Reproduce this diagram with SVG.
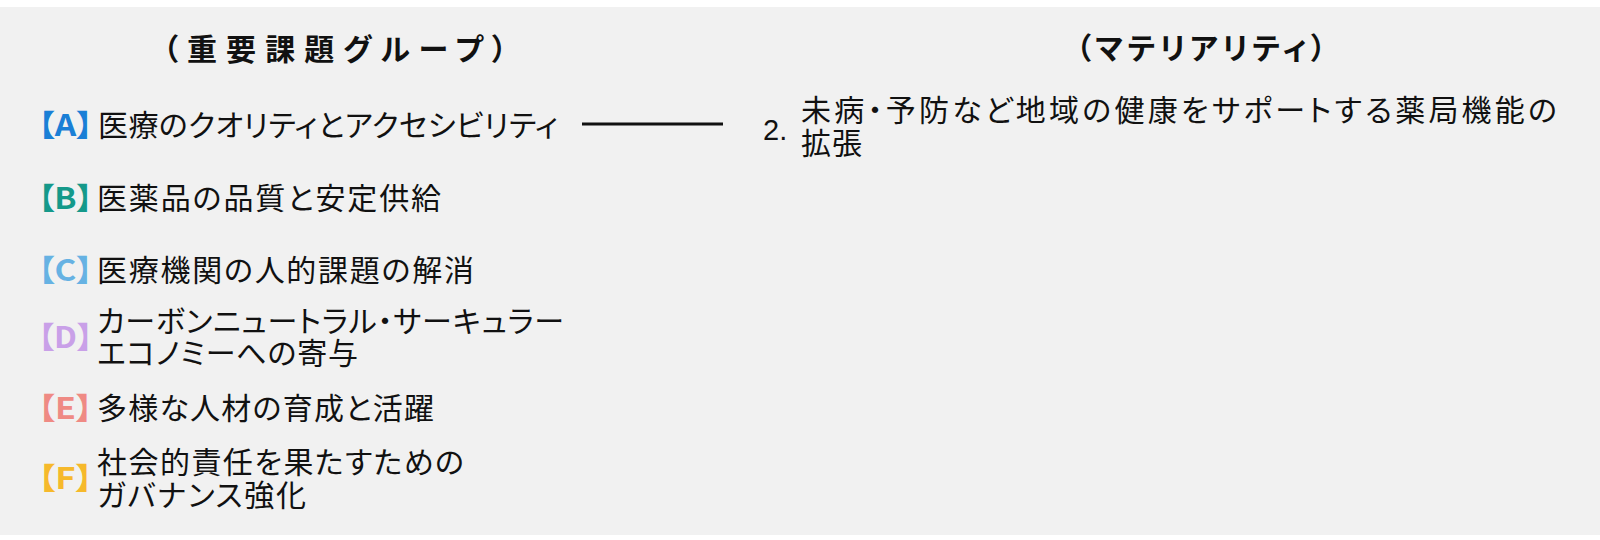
<svg xmlns="http://www.w3.org/2000/svg" width="1600" height="540" viewBox="0 0 1600 540">
<style>
.t{font-family:"Noto Sans CJK JP","Noto Sans",sans-serif;font-size:30px;fill:#111;font-feature-settings:"palt";}
.h{font-family:"Noto Sans CJK JP","Noto Sans",sans-serif;font-size:30px;font-weight:bold;fill:#111;font-feature-settings:"palt";}
.b{font-family:"Noto Sans CJK JP","Noto Sans",sans-serif;font-size:30px;font-weight:bold;font-feature-settings:"palt";}
.n{font-family:"Liberation Sans",Arial,sans-serif;font-size:29px;fill:#111;}
.conn{stroke:#111;stroke-width:3;fill:none;}
</style>
<rect x="0" y="0" width="1600" height="540" fill="#ffffff"/>
<rect x="0" y="7" width="1600" height="528" fill="#f1f1f1"/>
<g id="header-groups"><text class="h" x="163" y="60" textLength="344" lengthAdjust="spacing">（重要課題グループ）</text></g>
<g id="header-materiality"><text class="h" x="1076" y="59" textLength="250" lengthAdjust="spacing">（マテリアリティ）</text></g>
<g id="node-A">
<text class="b" x="38" y="136" fill="#1a7fd6" textLength="55" lengthAdjust="spacingAndGlyphs">【A】</text>
<text class="t" x="98" y="136" textLength="460" lengthAdjust="spacing">医療のクオリティとアクセシビリティ</text>
</g>
<g id="node-B">
<text class="b" x="38" y="209" fill="#15998a" textLength="55" lengthAdjust="spacingAndGlyphs">【B】</text>
<text class="t" x="97" y="209" textLength="344" lengthAdjust="spacing">医薬品の品質と安定供給</text>
</g>
<g id="node-C">
<text class="b" x="38" y="281" fill="#66b2e3" textLength="55" lengthAdjust="spacingAndGlyphs">【C】</text>
<text class="t" x="97" y="281" textLength="377" lengthAdjust="spacing">医療機関の人的課題の解消</text>
</g>
<g id="node-D">
<text class="b" x="38" y="348" fill="#c9a0e8" textLength="55" lengthAdjust="spacingAndGlyphs">【D】</text>
<text class="t" x="97" y="332" textLength="467" lengthAdjust="spacing">カーボンニュートラル・サーキュラー</text>
<text class="t" x="97" y="364" textLength="261" lengthAdjust="spacing">エコノミーへの寄与</text>
</g>
<g id="node-E">
<text class="b" x="38" y="419" fill="#ef8a84" textLength="55" lengthAdjust="spacingAndGlyphs">【E】</text>
<text class="t" x="97" y="419" textLength="337" lengthAdjust="spacing">多様な人材の育成と活躍</text>
</g>
<g id="node-F">
<text class="b" x="38" y="489" fill="#f6b92b" textLength="55" lengthAdjust="spacingAndGlyphs">【F】</text>
<text class="t" x="97" y="473" textLength="367" lengthAdjust="spacing">社会的責任を果たすための</text>
<text class="t" x="97" y="506" textLength="209" lengthAdjust="spacing">ガバナンス強化</text>
</g>
<g id="node-M2">
<text class="n" x="763" y="140">2.</text>
<text class="t" x="801" y="121" textLength="756" lengthAdjust="spacing">未病・予防など地域の健康をサポートする薬局機能の</text>
<text class="t" x="801" y="154" textLength="61" lengthAdjust="spacing">拡張</text>
</g>
<g id="connectors">
<line class="conn" x1="582" y1="124" x2="723" y2="124"/>
</g>
</svg>
